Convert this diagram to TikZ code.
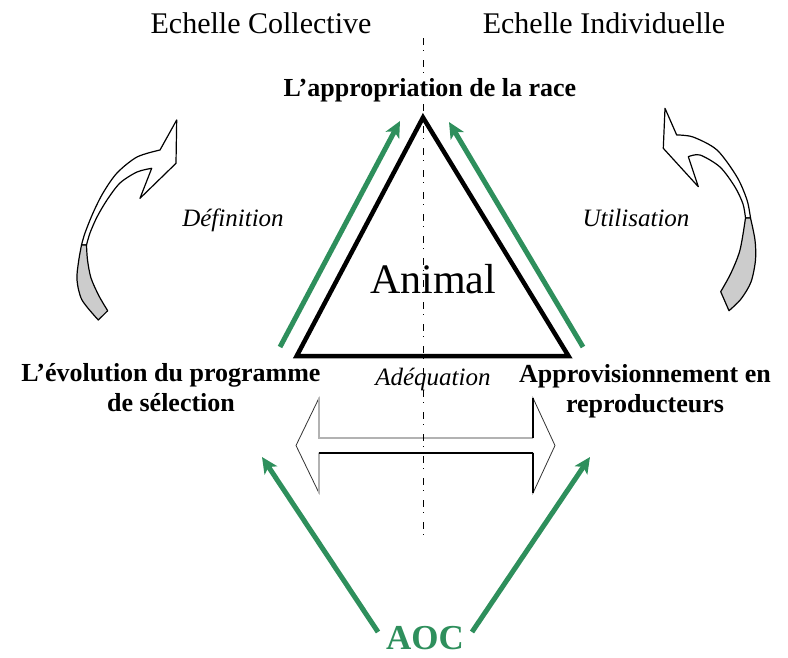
\documentclass[tikz,border=0pt]{standalone}
\usepackage{fontspec}
\setmainfont{Liberation Serif}
\usetikzlibrary{calc,arrows.meta}
\definecolor{aocgreen}{RGB}{46,143,92}
\tikzset{
  echelle/.style={inner sep=0pt,anchor=base,font=\fontsize{30}{34}\selectfont},
  titre/.style={inner sep=0pt,font=\fontsize{26}{30}\selectfont\bfseries},
  ital/.style={inner sep=0pt,anchor=base,font=\fontsize{25}{30}\selectfont\itshape},
  vert/.style={aocgreen,line width=5pt,-{Stealth[length=16pt,width=15pt,inset=4pt]}},
  ruban/.style={draw=black,line width=1.2pt,line join=round},
}
\begin{document}
\begin{tikzpicture}[x=1pt,y=-1pt]
                      \useasboundingbox (0,0) rectangle (788,657);
                      \node[echelle](colL)at(261,33){Echelle Collective};
                      \node[echelle](colR)at(604,33){Echelle Individuelle};
                      \node[titre,anchor=base](race)at(430,96){L’appropriation de la race};
                      \node[titre,align=center](prog)at(171,388){L’évolution du programme\\de sélection};
                      \node[titre,align=center](appro)at(645,391){Approvisionnement en\\reproducteurs};
                      \node[ital](defi)at(233,226){Définition};
                      \node[ital](util)at(636,226){Utilisation};
                      \node[ital](adeq)at(433,385){Adéquation};
                      \node[inner sep=0pt,anchor=base,font=\fontsize{42}{46}\selectfont](animal)at(433,293){Animal};
                      \node[inner sep=0pt,anchor=base,text=aocgreen,font=\fontsize{35}{40}\selectfont\bfseries](aoc)at(425,649){AOC};
                      \coordinate (sommet) at (423,117.5);
                      \coordinate (gauche) at (296.7,356);
                      \coordinate (droite) at (568.5,356);
                      \draw[line width=4.5pt,line join=miter] (sommet) -- (gauche) -- (droite) -- cycle;
                      \coordinate (g0) at (280,347); \coordinate (g1) at (400,121);
                      \coordinate (d0) at (583,347); \coordinate (d1) at (449,122);
                      \draw[vert] (g0) -- (g1);
                      \draw[vert] (d0) -- (d1);
                      \coordinate (a0) at (378,632); \coordinate (a1) at (262,457);
                      \coordinate (b0) at (472,632); \coordinate (b1) at (590,457);
                      \draw[vert] (a0) -- (a1);
                      \draw[vert] (b0) -- (b1);
                      \filldraw[fill=white,draw=black!80,line width=0.8pt] (296,445.5) -- (319,398) -- (319,437.7) -- (533,437.7) -- (533,398) -- (555,445.5) -- (533,493) -- (533,453) -- (319,453) -- (319,493) -- cycle;
                      \draw[gray!60,line width=2pt] (319,398) -- (319,437.7) -- (533,437.7);
                      \draw[gray!60,line width=2pt] (319,453) -- (319,493);
                      \draw[line width=1.5pt] (319,453) -- (533,453);
                      \draw[line width=1.5pt] (533,398) -- (533,437.7) (533,453) -- (533,493);
                      \filldraw[ruban,fill=white] plot[smooth] coordinates {(81.5,245) (85,233) (93,213) (103,193) (117,173) (137,157) (160,150)} -- (176.7,120) -- (176,163.3) -- (140,198.3) -- plot[smooth] coordinates {(151.7,168.3) (137,172) (120,183) (107,200) (97,217) (90,233) (86.5,245)} -- cycle;
                      \filldraw[ruban,fill=gray!40] plot[smooth] coordinates {(81.5,245) (78.5,262) (77,280) (82,300) (98.3,320)} -- plot[smooth] coordinates {(107.7,310.7) (99,296) (91,278) (87.5,260) (86.5,245)} -- cycle;
                      \filldraw[ruban,fill=white] plot[smooth] coordinates {(750.5,218) (747,200) (737,177) (717,150) (693,137) (676.7,135)} -- (665,108.3) -- (663.3,148.3) -- (698.3,186.7) -- plot[smooth] coordinates {(688.3,156.7) (700,155) (720,167) (735,187) (743,204) (745.5,218)} -- cycle;
                      \filldraw[ruban,fill=gray!40] plot[smooth] coordinates {(750.5,218) (755,240) (755.5,260) (751,282) (741,299) (729,310.7)} -- plot[smooth] coordinates {(720.7,291.7) (731,273) (740,250) (745.5,218)} -- cycle;
                      \coordinate (axe0) at (423,38); \coordinate (axe1) at (423,540);
                      \draw[line width=1pt,dash pattern=on 7pt off 5pt on 1pt off 9pt] (axe0) -- (axe1);
                  \end{tikzpicture}
\end{document}
